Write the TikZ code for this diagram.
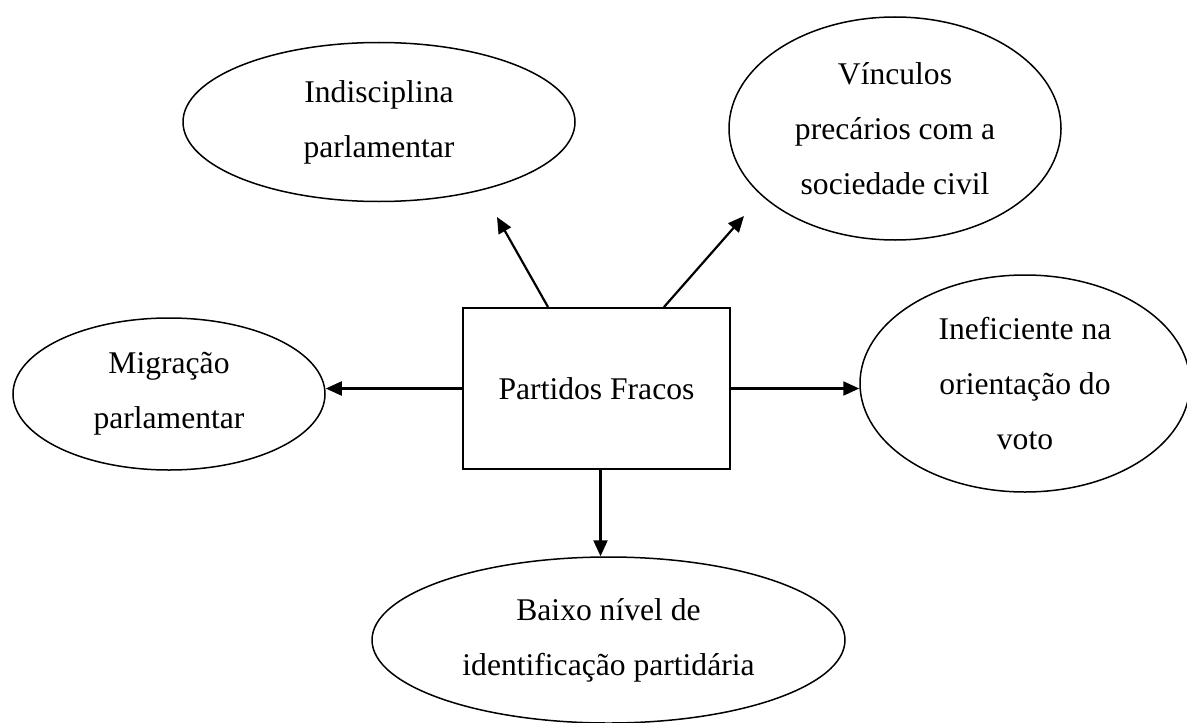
\documentclass[tikz,border=0pt]{standalone}
\usepackage{fontspec}
\setmainfont{Liberation Serif}
\usetikzlibrary{shapes.geometric, arrows.meta, positioning, calc}

\begin{document}
\begin{tikzpicture}[
        x=0.5pt, y=-0.5pt,
        font=\fontsize{15.8}{27.5}\selectfont,
        block/.style={rectangle, draw, line width=1pt, minimum width=133.5pt, minimum height=80.5pt},
        bubble/.style={ellipse, draw, line width=0.75pt, align=center, inner sep=0pt},
        line/.style={draw, line width=1.1pt, -{Triangle[length=8pt,width=7pt]}}
    ]
        \useasboundingbox (0,0) rectangle (1187,722);

        % Centre box
        \node [block] (partidos) at (596.5,388.5) {Partidos Fracos};

        % Effects round the box
        \node [bubble, minimum width=196pt, minimum height=79.5pt] (indisc) at (379,122) {Indisciplina\\parlamentar};
        \node [bubble, minimum width=166pt, minimum height=111.5pt] (vinc) at (895,128.5) {Vínculos\\precários com a\\sociedade civil};
        \node [bubble, minimum width=156pt, minimum height=76pt] (migr) at (169,394) {Migração\\parlamentar};
        \node [bubble, minimum width=165pt, minimum height=108.5pt] (inef) at (1025,383.5) {Ineficiente na\\orientação do\\voto};
        \node [bubble, minimum width=236.5pt, minimum height=83pt] (baixo) at (608.5,640) {Baixo nível de\\identificação partidária};

        % Free ends of the two upper arrows
        \coordinate (tipindisc) at (497,217);
        \coordinate (tipvinc) at (744,216);

        % Connections
        \draw [line] ([xshift=43pt]partidos.north west) -- (tipindisc);
        \draw [line] ([xshift=101pt]partidos.north west) -- (tipvinc);
        \draw [line] (partidos.west) -- (partidos.west -| migr.east);
        \draw [line] (partidos.east) -- (partidos.east -| inef.west);
        \draw [line] ([xshift=2pt]partidos.south) -- ([xshift=2pt]partidos.south |- baixo.north);

    \end{tikzpicture}
\end{document}
